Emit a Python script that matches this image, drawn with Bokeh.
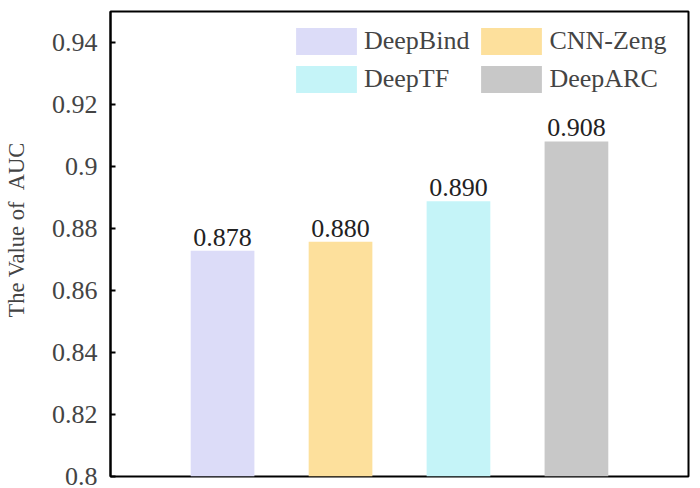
from bokeh.plotting import figure
from bokeh.models import (Range1d, FixedTicker, ColumnDataSource, Legend, LegendItem,
                          CustomJSTickFormatter)
from bokeh.core.properties import value
from bokeh.embed import file_html
from bokeh.resources import INLINE

methods = ["DeepBind", "CNN-Zeng", "DeepTF", "DeepARC"]
auc_bar = [0.8728, 0.8757, 0.8888, 0.9081]
auc_text = ["0.878", "0.880", "0.890", "0.908"]
colors = ["#DCDCF8", "#FDE09C", "#C5F4F8", "#C8C8C8"]
y_ticks = [0.8, 0.82, 0.84, 0.86, 0.88, 0.9, 0.92, 0.94]
y_tick_labels = ["0.8", "0.82", "0.84", "0.86", "0.88", "0.9", "0.92", "0.94"]
y_title = "The Value of\u00a0\u00a0AUC"

FONT = "Liberation Serif"

pos = list(range(1, len(methods) + 1))
src = ColumnDataSource(dict(x=pos, m=methods, v=auc_bar, t=auc_text, c=colors))

p = figure(width=700, height=488, output_backend="svg", toolbar_location=None,
           x_range=Range1d(0.05, len(methods) + 0.95),
           y_range=Range1d(0.8, 0.95),
           min_border_left=110, min_border_top=11, min_border_bottom=12, min_border_right=12)

r = p.vbar(x="x", top="v", bottom=0.8, width=0.54, fill_color="c", line_color=None, source=src)

p.text(x="x", y="v", text="t", source=src, text_align="center", text_baseline="bottom",
       y_offset=-5, text_font=value(FONT), text_font_size=value("26px"), text_color="#222222")

p.xaxis.visible = False
p.xgrid.visible = False
p.ygrid.visible = False

ax = p.yaxis[0]
ax.ticker = FixedTicker(ticks=y_ticks)
ax.formatter = CustomJSTickFormatter(args=dict(tvals=y_ticks, labs=y_tick_labels),
                                     code="const i = tvals.findIndex(t => Math.abs(t - tick) < 1e-9); return i >= 0 ? labs[i] : '';")
ax.major_tick_in = 5
ax.major_tick_out = 0
ax.minor_tick_line_color = None
ax.axis_line_width = 2
ax.major_tick_line_width = 2
ax.major_label_text_font = FONT
ax.major_label_text_font_size = "26px"
ax.major_label_standoff = 13
ax.axis_label = "\u00a0" * 5 + y_title
ax.axis_label_text_font = FONT
ax.axis_label_text_font_size = "22.5px"
ax.axis_label_text_font_style = "normal"
ax.axis_label_standoff = 20

p.outline_line_color = "black"
p.outline_line_width = 2
p.outline_line_alpha = 1

order = [0, 2, 1, 3]
items = [LegendItem(label=methods[i], renderers=[r], index=i) for i in order]
legend = Legend(items=items, location=(178, 380), ncols=2, glyph_width=76, glyph_height=34,
                label_standoff=0, spacing=4, padding=0, margin=0,
                label_text_font=FONT, label_text_font_size="26px",
                border_line_alpha=0, background_fill_alpha=0)
p.add_layout(legend)

open("out.html", "w").write(file_html(p, INLINE))
